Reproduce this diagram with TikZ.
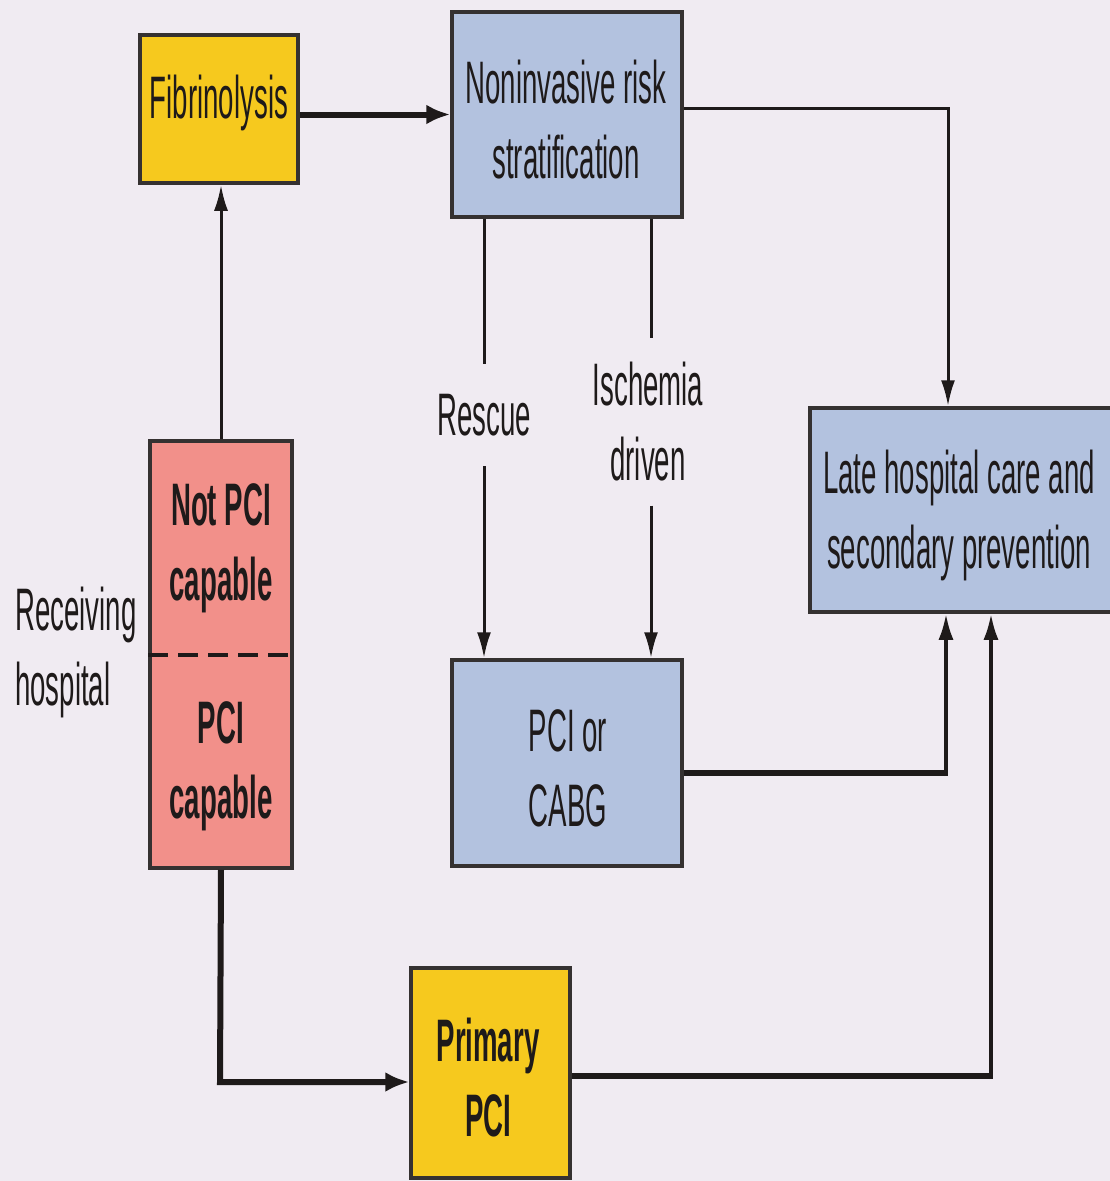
\documentclass[tikz,border=0pt]{standalone}
\usepackage{fontspec}
\setmainfont{Liberation Sans}[FakeStretch=0.46]
\usetikzlibrary{arrows.meta,calc}
\definecolor{bg}{HTML}{F0EBF2}
\definecolor{gold}{HTML}{F6C91E}
\definecolor{steel}{HTML}{B3C2DF}
\definecolor{salmon}{HTML}{F2908A}
\definecolor{ink}{HTML}{1E1A1A}
\tikzset{
  box/.style={draw=ink!90, line width=3.5pt, inner sep=0pt, text=ink},
  lbl/.style={align=center, inner sep=0pt, text=ink, font=\fontsize{60}{75}\selectfont},
  thin/.style={draw=ink, line width=3pt},
  thick/.style={draw=ink, line width=6pt},
  thinarrow/.style={thin, -{Latex[length=26pt,width=14pt]}},
  thickarrow/.style={thick, -{Latex[length=24pt,width=20pt]}},
  uparrow/.style={draw=ink, line width=3.5pt, -{Latex[length=26pt,width=15pt]}},
}
\begin{document}
\begin{tikzpicture}[x=1pt,y=-1pt]
\fill[bg] (0,0) rectangle (1110,1181);
\useasboundingbox (0,0) rectangle (1110,1181);

% boxes
\node[box, fill=gold, minimum width=158pt, minimum height=148pt] (fib) at (219,109) {};
\node[lbl] (fibt) at (219,103) {Fibrinolysis};

\node[box, fill=steel, minimum width=230pt, minimum height=205pt] (nrs) at (567,114.5) {};
\node[lbl] (nrst) at (566,120) {Noninvasive risk\\stratification};

\node[box, fill=steel, minimum width=304pt, minimum height=204pt] (late) at (962,510) {};
\node[lbl] (latet) at (959,515) {Late hospital care and\\secondary prevention};

\node[box, fill=steel, minimum width=230pt, minimum height=206pt] (cabg) at (567,763) {};
\node[lbl] (cabgt) at (568,768) {PCI or\\CABG};

\node[box, fill=salmon, minimum width=142pt, minimum height=427pt] (recv) at (221,654.5) {};
\draw[ink, line width=3.5pt, dash pattern=on 20pt off 10pt] (recv.west |- 0,655) coordinate (dl) -- (recv.east |- 0,655) coordinate (dr);
\node[lbl, font=\bfseries\fontsize{60}{75}\selectfont] (notpci) at (221,548) {Not PCI\\capable};
\node[lbl, font=\bfseries\fontsize{60}{75}\selectfont] (pcicap) at (221,766) {PCI\\capable};

\node[box, fill=gold, minimum width=159pt, minimum height=210pt] (ppci) at (490.5,1073) {};
\node[lbl, font=\bfseries\fontsize{60}{75}\selectfont] (ppcit) at (488,1078) {Primary\\PCI};

\node[lbl, align=left, anchor=west] (rh) at (15,652) {Receiving\\hospital};

% labels on vertical arrows
\node[lbl, inner ysep=30pt] (resc) at (484,415) {Rescue};
\node[lbl, inner ysep=24pt] (isch) at (648,422) {Ischemia\\driven};

% connectors
\draw[thickarrow] (fib.east |- nrs.west) -- (nrs.west);
\draw[thinarrow] (recv.north) -- (recv.north |- fib.south);

\coordinate (c1) at (948,108);
\draw[thin] (nrs.east |- c1) -- ($(c1)+(1.5,0)$);
\draw[thinarrow] (c1) -- (c1 |- late.north);

\draw[thin] (nrs.south -| resc) -- (resc.north);
\draw[thinarrow] (resc.south) -- (resc.south |- cabg.north);
\coordinate (ix) at (651,0);
\draw[thin] (nrs.south -| ix) -- (isch.north -| ix);
\draw[thinarrow] (isch.south -| ix) -- (cabg.north -| ix);

\coordinate (c2) at (946,773);
\draw[thick] (cabg.east |- c2) -- ($(c2)+(1.75,0)$);
\draw[uparrow] ($(c2)+(0,3)$) -- (c2 |- late.south);

\coordinate (c3) at (220,1082);
\draw[thickarrow] (recv.south) -- (c3) -- (ppci.west |- c3);

\coordinate (c4) at (991,1076);
\draw[thick] (ppci.east |- c4) -- ($(c4)+(1.75,0)$);
\draw[uparrow] ($(c4)+(0,3)$) -- (c4 |- late.south);
\end{tikzpicture}
\end{document}
